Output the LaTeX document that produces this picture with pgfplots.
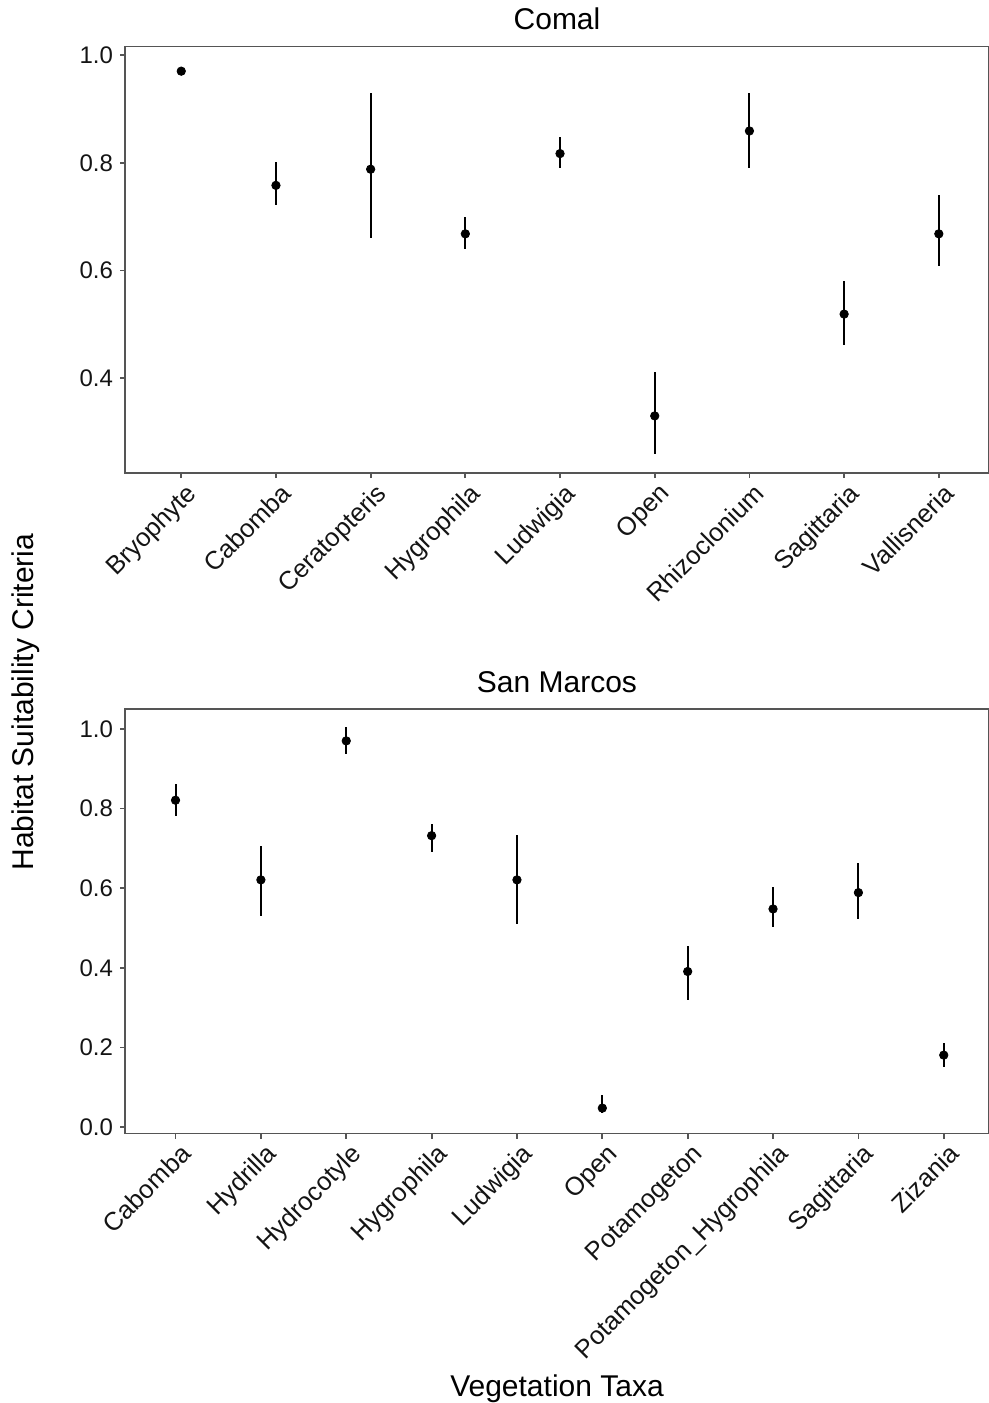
\documentclass[border=0pt]{standalone}
\usepackage{pgfplots}
\usepackage{pgfplotstable}
\pgfplotsset{compat=1.18}
\usepackage{fontspec}
\setmainfont{Liberation Sans}
\definecolor{axgray}{RGB}{85,85,85}
\definecolor{txt}{RGB}{20,20,20}

\pgfplotstableread{
x y lo hi
0 0.970 0.965 0.975
1 0.758 0.721 0.801
2 0.788 0.661 0.930
3 0.668 0.639 0.700
4 0.817 0.790 0.848
5 0.330 0.260 0.412
6 0.859 0.790 0.930
7 0.519 0.461 0.580
8 0.668 0.609 0.741
}\comal

\pgfplotstableread{
x y lo hi
0 0.821 0.782 0.862
1 0.621 0.531 0.705
2 0.970 0.936 1.004
3 0.732 0.692 0.761
4 0.621 0.511 0.733
5 0.048 0.036 0.081
6 0.391 0.320 0.454
7 0.548 0.503 0.603
8 0.589 0.523 0.664
9 0.181 0.151 0.211
}\sanmarcos

\begin{document}
\begin{tikzpicture}
\useasboundingbox (0pt,0pt) rectangle (494.5pt,-701.5pt);
\pgfplotsset{
  myax/.style={
    scale only axis, width=432pt,
    axis line style={axgray, line width=0.9pt},
    every tick/.style={axgray, line width=0.9pt},
    tick align=outside, major tick length=2.5pt,
    xtick pos=bottom, ytick pos=left,
    xticklabel style={rotate=45, anchor=north east, font=\fontsize{12.8}{14}\selectfont, text=txt, inner sep=1pt, yshift=-1.5pt, xshift=1pt},
    yticklabel style={font=\fontsize{12}{14}\selectfont, text=txt, /pgf/number format/.cd, fixed, fixed zerofill, precision=1},
    /pgf/number format/assume math mode=true,
    title style={font=\fontsize{15}{18}\selectfont, text=black, at={(0.5,1)}, anchor=base, yshift=2.5pt},
  },
  mypl/.style={black, mark=*, mark size=2.1pt, only marks, mark options={fill=black, draw=black},
    error bars/.cd, y dir=both, y explicit,
    error bar style={black, line width=1pt}, error mark=none},
}
\begin{axis}[myax, at={(62.5pt,-23.25pt)}, anchor=north west,
  height=213.25pt, xmin=-0.594, xmax=8.53, ymin=0.224, ymax=1.0158,
  title={Comal},
  xtick={0,...,8}, ytick={0.4,0.6,0.8,1.0},
  xticklabels={Bryophyte,Cabomba,Ceratopteris,Hygrophila,Ludwigia,Open,Rhizoclonium,Sagittaria,Vallisneria}]
\addplot[mypl] table[x=x, y=y, y error plus expr=\thisrow{hi}-\thisrow{y}, y error minus expr=\thisrow{y}-\thisrow{lo}] {\comal};
\end{axis}
\begin{axis}[myax, at={(62.5pt,-354.5pt)}, anchor=north west,
  height=212.25pt, xmin=-0.592, xmax=9.53, ymin=-0.0158, ymax=1.05,
  title={San Marcos},
  xtick={0,...,9}, ytick={0,0.2,0.4,0.6,0.8,1.0},
  xticklabels={Cabomba,Hydrilla,Hydrocotyle,Hygrophila,Ludwigia,Open,Potamogeton,Potamogeton\_Hygrophila,Sagittaria,Zizania}]
\addplot[mypl] table[x=x, y=y, y error plus expr=\thisrow{hi}-\thisrow{y}, y error minus expr=\thisrow{y}-\thisrow{lo}] {\sanmarcos};
\end{axis}
\node[rotate=90, font=\fontsize{15}{18}\selectfont, anchor=center] at (13pt,-351pt) {Habitat Suitability Criteria};
\node[font=\fontsize{15}{18}\selectfont, anchor=base] at (278.5pt,-698pt) {Vegetation Taxa};
\end{tikzpicture}
\end{document}
